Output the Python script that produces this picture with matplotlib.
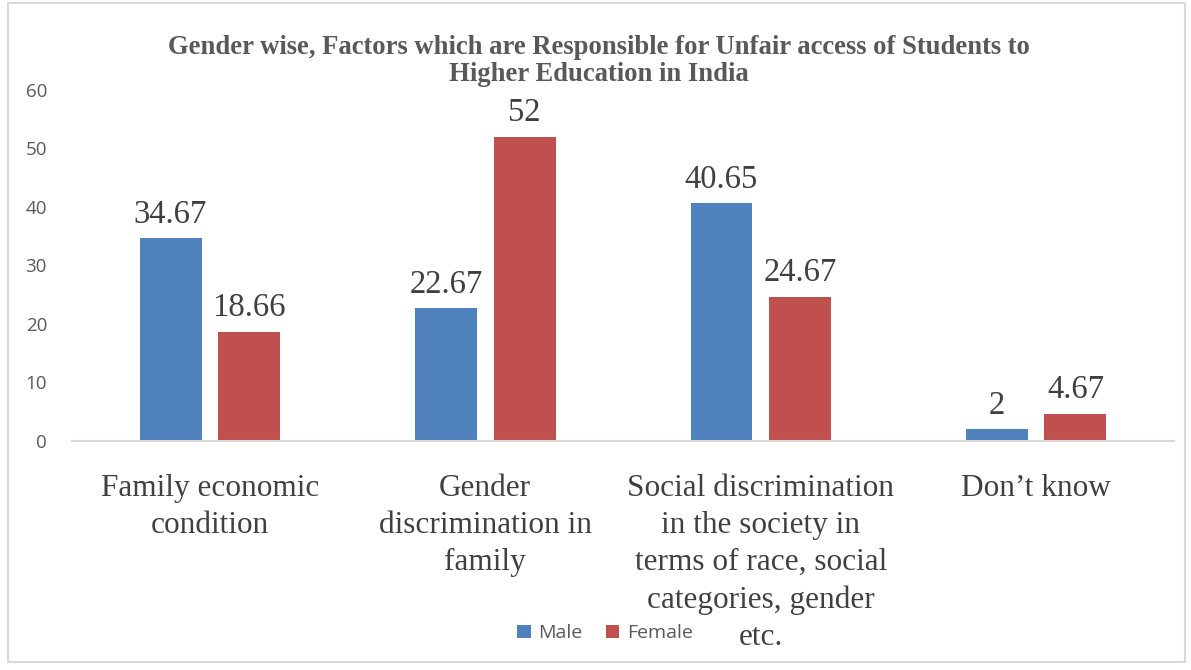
import numpy as np
import matplotlib.pyplot as plt
from matplotlib.patches import Rectangle

# data
categories = ["Family economic\ncondition",
              "Gender\ndiscrimination in\nfamily",
              "Social discrimination\nin the society in\nterms of race, social\ncategories, gender\netc.",
              "Don\u2019t know"]
male = [34.67, 22.67, 40.65, 2]
female = [18.66, 52, 24.67, 4.67]
male_labels = ["34.67", "22.67", "40.65", "2"]
female_labels = ["18.66", "52", "24.67", "4.67"]
yticks = [0, 10, 20, 30, 40, 50, 60]

blue = "#4f81bd"
red = "#c0504d"
grey = "#595959"
serif = ["Liberation Serif", "DejaVu Serif"]
sans = ["Open Sans", "DejaVu Sans"]

fig = plt.figure(figsize=(11.91, 6.7), dpi=100)
ax = fig.add_axes([0.0605, 0.3418, 0.9252, 0.5239])

x = np.arange(len(categories))
w = 0.225
off = 0.1425
b1 = ax.bar(x - off, male, w, color=blue, label="Male")
b2 = ax.bar(x + off, female, w, color=red, label="Female")

for bars, labs in ((b1, male_labels), (b2, female_labels)):
    for b, t in zip(bars, labs):
        ax.annotate(t, (b.get_x() + b.get_width() / 2, b.get_height()),
                    xytext=(0, 6), textcoords="offset points",
                    ha="center", va="bottom", fontsize=23.5,
                    family=serif, color="#404040")

ax.set_xlim(-0.5, 3.5)
ax.set_ylim(0, 60)
ax.set_yticks(yticks)
ax.set_yticklabels([str(v) for v in yticks], family=sans, fontsize=13.5, color=grey)
ax.set_xticks(x)
ax.set_xticklabels(categories, family=serif, fontsize=22.5, color="#404040",
                   linespacing=1.36, va="top")
ax.tick_params(axis="both", length=0)
ax.tick_params(axis="y", pad=18)
ax.tick_params(axis="x", pad=24)
for s in ("top", "right", "left"):
    ax.spines[s].set_visible(False)
ax.spines["bottom"].set_color("#d9d9d9")
ax.spines["bottom"].set_linewidth(1.5)

fig.text(0.503, 0.909,
         "Gender wise, Factors which are Responsible for Unfair access of Students to\nHigher Education in India",
         ha="center", va="center", fontsize=19.2, fontweight="bold",
         family=serif, color=grey, linespacing=1.06)

leg = fig.legend(handles=[b1, b2], labels=["Male", "Female"], loc="center",
                 bbox_to_anchor=(0.508, 0.055), ncol=2, frameon=False,
                 prop={"family": sans, "size": 14}, handlelength=0.7,
                 handleheight=0.7, handletextpad=0.4, columnspacing=1.2)
for t in leg.get_texts():
    t.set_color(grey)

fig.patches.append(Rectangle((0.007, 0.012), 0.988, 0.984, transform=fig.transFigure,
                             fill=False, edgecolor="#d9d9d9", linewidth=1.5))

fig.savefig("out.png", dpi=100)
